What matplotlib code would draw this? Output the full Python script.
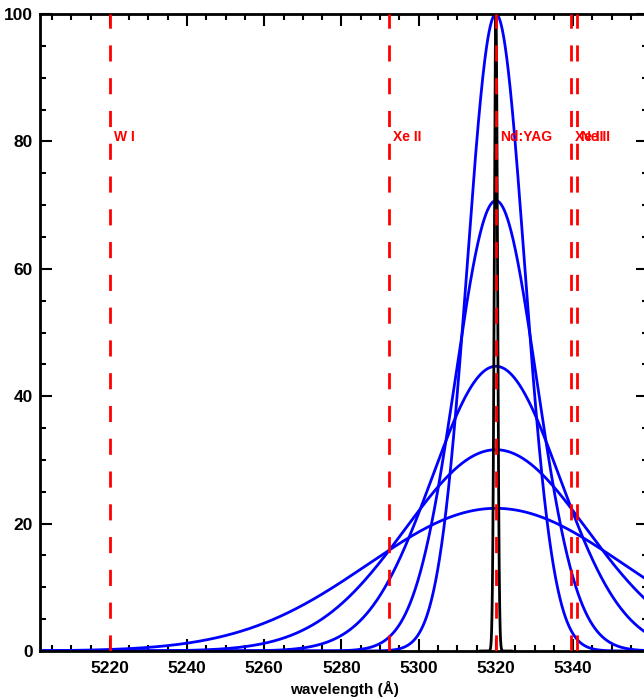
import numpy as np
import matplotlib
matplotlib.use('Agg')
import matplotlib.pyplot as plt
from matplotlib.ticker import MultipleLocator

# ---- data ----
center = 5320.0
peaks = [100.0, 70.7, 44.7, 31.6, 22.4]          # peak heights of blue profiles
fwhm = [17.5, 24.7, 39.1, 55.3, 78.2]            # FWHM (Angstrom) of blue profiles
laser_peak = 100.0
laser_fwhm = 1.0
line_pos = [5220.0, 5292.3, 5320.0, 5339.4, 5341.1]
line_labels = ['W I', 'Xe II', 'Nd:YAG', 'Xe II', 'Ne II']
label_y = 80.0
x_ticks = [5220, 5240, 5260, 5280, 5300, 5320, 5340]
y_ticks = [0, 20, 40, 60, 80, 100]

plt.rcParams['font.family'] = ['Liberation Sans', 'DejaVu Sans']

W, H = 644, 698
fig = plt.figure(figsize=(W / 100, H / 100), dpi=100)
ax = fig.add_axes([40 / W, (H - 651) / H, (648 - 40) / W, (651 - 14) / H])

x = np.linspace(5195, 5365, 4000)


def gauss(xx, p, fw):
    s = fw / 2.3548
    return p * np.exp(-(xx - center) ** 2 / (2 * s * s))


for p, fw in zip(peaks, fwhm):
    ax.plot(x, gauss(x, p, fw), color='#0000ff', lw=2.0, zorder=2)

xl = np.linspace(5316, 5324, 2000)
ax.plot(xl, gauss(xl, laser_peak, laser_fwhm), color='black', lw=2.0, zorder=3)

for pos, lab in zip(line_pos, line_labels):
    ax.plot([pos, pos], [0, 100], color='#ff0000', lw=2.0,
            dashes=(5.8, 6.0), zorder=4)
    ax.text(pos + 1.0, label_y, lab, color='#ff0000', fontsize=10,
            fontweight='bold', ha='left', va='baseline', zorder=5)

ax.set_xlim(5201.9, 5359.4)
ax.set_ylim(0, 100)
ax.set_xticks(x_ticks)
ax.set_yticks(y_ticks)
ax.xaxis.set_minor_locator(MultipleLocator(5))
ax.yaxis.set_minor_locator(MultipleLocator(5))
ax.tick_params(which='both', direction='in', top=True, right=True, width=1.5,
               labelsize=12.5)
ax.tick_params(which='major', length=8.5)
ax.tick_params(which='minor', length=4.3)
ax.tick_params(axis='x', pad=7)
ax.tick_params(axis='y', pad=5)
for lab in ax.get_xticklabels() + ax.get_yticklabels():
    lab.set_fontweight('bold')
for sp in ax.spines.values():
    sp.set_linewidth(2.0)

ax.set_xlabel('wavelength (Å)', fontsize=11, fontweight='bold', labelpad=4)

fig.savefig('out.png', dpi=100)
